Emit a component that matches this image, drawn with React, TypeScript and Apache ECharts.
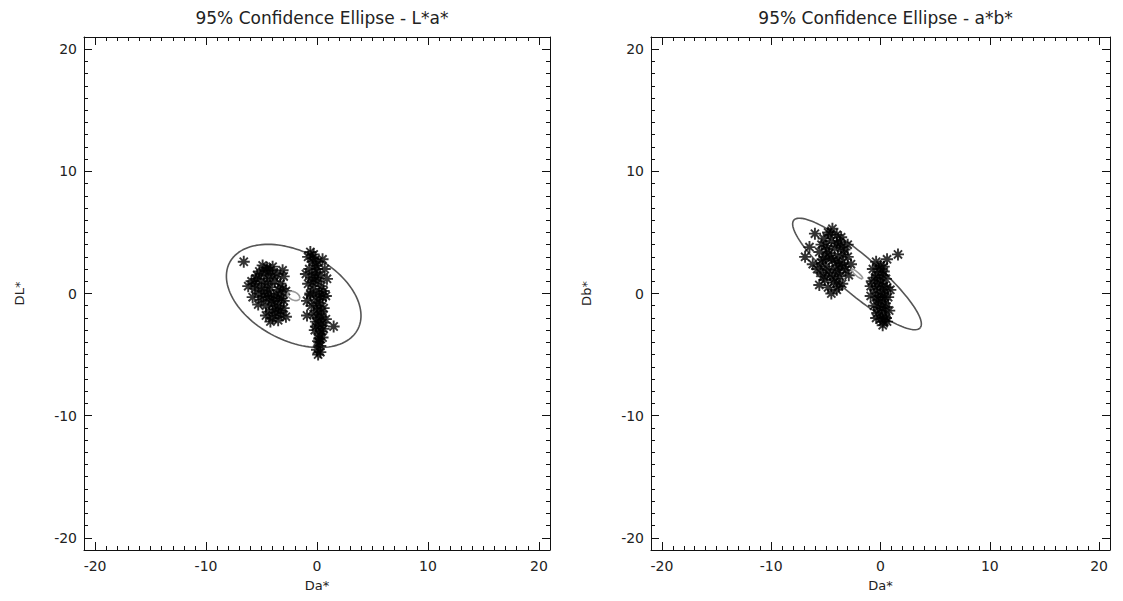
import { useEffect, useRef } from "react";
import * as echarts from "echarts";

// Axis layout (both panels share the same range and tick marks)
const AXIS_MIN = -21;
const AXIS_MAX = 21;
const MAJOR_TICKS = [-20, -10, 0, 10, 20];
const MINOR_TICKS = [
  -21, -20, -19, -18, -17, -16, -15, -14, -13, -12, -11, -10, -9, -8, -7, -6, -5, -4, -3, -2, -1,
  0, 1, 2, 3, 4, 5, 6, 7, 8, 9, 10, 11, 12, 13, 14, 15, 16, 17, 18, 19, 20, 21,
];

const TITLES = ["95% Confidence Ellipse - L*a*", "95% Confidence Ellipse - a*b*"];
const X_NAMES = ["Da*", "Da*"];
const Y_NAMES = ["DL*", "Db*"];

// Colour differences: [Da*, DL*]
const LA_POINTS: [number, number][] = [
  [-6.6, 2.6],
  [-4.9, 2.3], [-4.5, 2.1], [-4.2, 1.9], [-5.2, 1.8], [-4.0, 1.5], [-4.8, 1.6], [-5.5, 1.2],
  [-5.9, 1.0], [-6.2, 0.6], [-5.6, 0.4], [-5.0, 1.0], [-4.4, 1.2], [-3.8, 1.0], [-3.3, 0.8],
  [-3.0, 1.4], [-3.5, 0.3], [-4.2, 0.5], [-4.7, 0.2], [-5.3, 0.0], [-5.8, -0.3], [-5.0, -0.5],
  [-4.4, -0.3], [-3.9, -0.2], [-3.2, -0.4], [-2.8, 0.2], [-4.6, -1.0], [-4.0, -0.9], [-3.5, -1.0],
  [-3.0, -1.2], [-4.3, -1.5], [-3.7, -1.6], [-3.2, -1.8], [-4.0, -2.0], [-3.5, -2.2], [-2.8, -1.9],
  [-4.6, -1.8], [-5.3, -0.9], [-3.0, -0.6], [-3.1, 1.9], [-4.5, 0.8],
  [-5.4, 1.5], [-4.6, 1.9], [-3.6, 1.6], [-3.4, -0.1], [-4.1, -0.6], [-4.8, -0.2], [-5.6, 0.8],
  [-3.8, -1.3], [-3.3, -1.4], [-4.2, -2.3], [-3.6, -0.5], [-4.3, 0.0], [-5.0, 0.5], [-3.1, 0.4],
  [-4.0, 2.2],
  [-0.6, 3.4], [-0.3, 3.2], [-0.8, 3.0], [-0.4, 2.6], [-0.1, 2.3], [-0.7, 2.0], [-0.2, 1.7],
  [0.3, 1.5], [-0.5, 1.3], [0.1, 1.0], [-0.8, 0.8], [0.4, 0.6], [-0.3, 0.4], [0.2, 0.1],
  [-0.6, -0.1], [0.5, -0.3], [-0.1, -0.5], [0.3, -0.8], [-0.5, -1.0], [0.6, -1.2], [0.0, -1.4],
  [-0.3, -1.7], [0.4, -1.9], [0.8, -2.1], [-0.1, -2.3], [0.3, -2.6], [0.6, -2.9], [-0.2, -3.0],
  [0.2, -3.3], [0.5, -3.6], [0.1, -3.9], [0.3, -4.3], [0.0, -4.6], [0.1, -5.0], [1.5, -2.7],
  [0.8, -0.2], [0.9, 1.2], [-0.9, -0.6], [0.7, 2.0], [0.5, 2.8], [-1.0, 1.6], [-0.9, -1.8],
  [-0.4, 2.9], [0.0, 2.0], [-0.4, 0.9], [0.2, -0.2], [0.0, -1.0], [0.4, -1.5], [0.1, -2.0],
  [-0.1, -2.7], [0.4, -3.1], [0.2, -3.7], [0.2, -4.0], [-0.1, 1.3], [0.6, 0.2], [0.1, 2.6],
  [-0.6, 0.0], [0.3, -4.8], [0.5, -2.4],
];

// Colour differences: [Da*, Db*]
const AB_POINTS: [number, number][] = [
  [-6.0, 4.9], [-6.9, 3.0], [-5.6, 0.7], [-4.4, 5.3], [-4.8, 5.0], [-4.0, 4.8], [-5.2, 4.5],
  [-4.5, 4.3], [-3.7, 4.2], [-5.0, 3.9], [-4.2, 3.7], [-3.3, 3.6], [-5.6, 3.4], [-4.7, 3.3],
  [-3.9, 3.1], [-3.0, 3.0], [-5.3, 2.8], [-4.4, 2.7], [-3.5, 2.5], [-6.2, 2.4], [-5.0, 2.2],
  [-4.1, 2.0], [-3.2, 1.9], [-5.5, 1.7], [-4.6, 1.5], [-3.7, 1.4], [-2.9, 1.5], [-5.1, 1.1],
  [-4.3, 0.9], [-3.5, 0.8], [-4.8, 0.5], [-4.0, 0.3], [-6.5, 3.8], [-2.7, 2.4], [-5.8, 2.0],
  [-3.0, 4.0], [-4.9, 3.6], [-3.8, 2.3],
  [-4.6, 4.8], [-3.6, 4.6], [-5.4, 4.0], [-4.0, 4.1], [-3.4, 3.2], [-4.5, 2.9], [-5.0, 3.0],
  [-4.0, 2.6], [-3.3, 2.2], [-4.7, 1.9], [-3.9, 1.7], [-5.2, 1.4], [-4.2, 1.2], [-3.8, 0.6],
  [-4.5, 0.0], [-5.4, 2.5], [-3.6, 3.8],
  [1.6, 3.2], [-0.4, 2.6], [0.0, 2.3], [-0.7, 2.0], [0.3, 1.8], [-0.3, 1.5], [0.5, 1.2],
  [-0.8, 1.0], [0.0, 0.8], [0.6, 0.5], [-0.5, 0.3], [0.2, 0.0], [-0.9, -0.2], [0.7, -0.3],
  [-0.2, -0.5], [0.4, -0.8], [-0.6, -1.0], [0.1, -1.2], [0.8, -1.4], [-0.3, -1.6], [0.4, -1.9],
  [0.0, -2.1], [0.6, -2.3], [0.2, -2.6], [-0.1, 1.1], [0.9, 0.3], [-0.9, 0.6], [0.6, 2.8],
  [-0.2, 2.0], [0.2, 1.5], [-0.5, 1.3], [0.3, 0.6], [-0.3, 0.6], [0.0, 0.1], [0.4, -0.3],
  [-0.4, -0.3], [0.2, -1.5], [-0.2, -1.1], [0.5, -1.1], [0.2, -2.3], [0.5, -2.0], [-0.4, -2.0],
  [0.3, 2.2], [0.0, -0.6],
];

// 95% ellipses: centre, semi-axes and rotation (degrees)
const LA_ELLIPSE = { cx: -2.1, cy: -0.2, a: 6.4, b: 3.7, angle: -23 };
const AB_ELLIPSE = { cx: -2.15, cy: 1.6, a: 7.27, b: 1.64, angle: -37 };
// Smaller ellipse drawn around the mean
const MEAN_ELLIPSE_SCALE = 0.09;

const GRIDS = [
  { left: 84, top: 37, width: 466, height: 513 },
  { left: 651, top: 37, width: 459, height: 513 },
];

const FONT = "DejaVu Sans";
const STAR = "path://M0,5L10,5M5,0L5,10M1.6,1.6L8.4,8.4M8.4,1.6L1.6,8.4";

type Ellipse = { cx: number; cy: number; a: number; b: number; angle: number };

function ellipseCurve(e: Ellipse, scale: number): [number, number][] {
  const th = (e.angle * Math.PI) / 180;
  const pts: [number, number][] = [];
  for (let deg = 0; deg <= 360; deg += 3) {
    const t = (deg * Math.PI) / 180;
    const u = e.a * scale * Math.cos(t);
    const v = e.b * scale * Math.sin(t);
    pts.push([e.cx + u * Math.cos(th) - v * Math.sin(th), e.cy + u * Math.sin(th) + v * Math.cos(th)]);
  }
  return pts;
}

function boxAxes(gridIndex: number, isX: boolean, name: string) {
  const main = isX ? "bottom" : "left";
  const opp = isX ? "top" : "right";
  const base = { type: "value", gridIndex, min: AXIS_MIN, max: AXIS_MAX, splitLine: { show: false } };
  const line = { show: true, onZero: false, lineStyle: { color: "#111", width: 1 } };
  const noLine = { show: false, onZero: false };
  return [
    {
      ...base,
      position: main,
      axisLine: line,
      axisTick: { show: true, inside: true, length: 8, customValues: MAJOR_TICKS, lineStyle: { color: "#111" } },
      axisLabel: {
        show: true,
        customValues: MAJOR_TICKS,
        fontFamily: FONT,
        fontSize: 14,
        color: "#222",
        margin: isX ? 9 : 7,
      },
      name,
      nameLocation: "middle",
      nameGap: isX ? 29 : 58,
      nameTextStyle: { fontFamily: FONT, fontSize: 13, color: "#222" },
    },
    {
      ...base,
      position: main,
      axisLine: noLine,
      axisTick: { show: true, inside: true, length: 4, customValues: MINOR_TICKS, lineStyle: { color: "#111" } },
      axisLabel: { show: false },
    },
    {
      ...base,
      position: opp,
      axisLine: line,
      axisTick: { show: true, inside: true, length: 8, customValues: MAJOR_TICKS, lineStyle: { color: "#111" } },
      axisLabel: { show: false },
    },
    {
      ...base,
      position: opp,
      axisLine: noLine,
      axisTick: { show: true, inside: true, length: 4, customValues: MINOR_TICKS, lineStyle: { color: "#111" } },
      axisLabel: { show: false },
    },
  ];
}

function panelSeries(i: number, points: [number, number][], ellipse: Ellipse) {
  const axes = { xAxisIndex: i * 4, yAxisIndex: i * 4 };
  return [
    {
      type: "scatter",
      ...axes,
      data: points,
      symbol: STAR,
      symbolSize: 12,
      itemStyle: { color: "rgba(0,0,0,0)", borderColor: "#000", borderWidth: 1.9 },
      z: 3,
    },
    {
      type: "line",
      ...axes,
      data: ellipseCurve(ellipse, 1),
      showSymbol: false,
      lineStyle: { color: "#555", width: 1.6 },
      z: 2,
    },
    {
      type: "line",
      ...axes,
      data: ellipseCurve(ellipse, MEAN_ELLIPSE_SCALE),
      showSymbol: false,
      lineStyle: { color: "#999", width: 1.6 },
      z: 4,
    },
  ];
}

export default function App() {
  const ref = useRef<HTMLDivElement>(null);

  useEffect(() => {
    if (!ref.current) return;
    const chart = echarts.init(ref.current, undefined, { renderer: "svg" });
    chart.setOption({
      animation: false,
      backgroundColor: "#fff",
      title: GRIDS.map((g, i) => ({
        text: TITLES[i],
        left: g.left + g.width / 2,
        top: 4,
        textAlign: "center",
        textStyle: { fontFamily: FONT, fontSize: 17, fontWeight: "normal", color: "#222" },
      })),
      grid: GRIDS,
      xAxis: [...boxAxes(0, true, X_NAMES[0]), ...boxAxes(1, true, X_NAMES[1])],
      yAxis: [...boxAxes(0, false, Y_NAMES[0]), ...boxAxes(1, false, Y_NAMES[1])],
      series: [...panelSeries(0, LA_POINTS, LA_ELLIPSE), ...panelSeries(1, AB_POINTS, AB_ELLIPSE)],
    });
    return () => chart.dispose();
  }, []);

  return (
    <div
      ref={ref}
      style={{ position: "fixed", left: 0, top: 0, width: 1123, height: 601, background: "#fff" }}
    />
  );
}
